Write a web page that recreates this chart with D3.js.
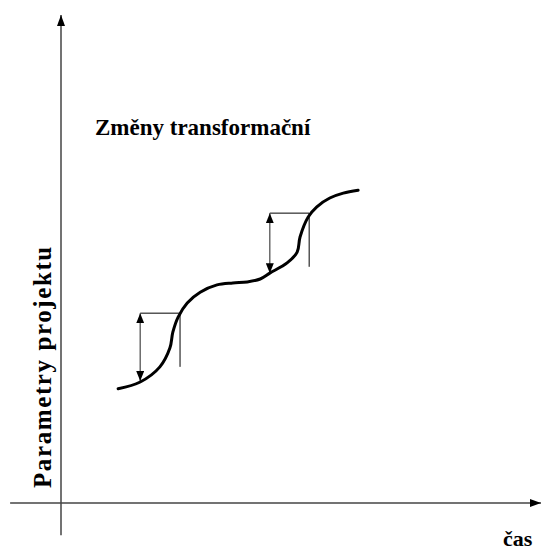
<!DOCTYPE html>
<html><head><meta charset="utf-8"><script src="https://cdn.jsdelivr.net/npm/d3@7"></script></head>
<body style="margin:0">
<svg id="chart" width="545" height="551"></svg>
<script>
// curve of project parameters over time (abstract units)
var curveT = [1.19, 1.65, 2.06, 2.27, 2.33, 2.44, 2.63, 2.90, 3.25, 3.58, 3.88, 4.15, 4.35, 4.71, 4.92, 4.98, 5.15, 5.33, 5.60, 5.88, 6.19];
var curveP = [2.34, 2.48, 2.79, 3.18, 3.50, 3.81, 4.10, 4.32, 4.47, 4.51, 4.53, 4.59, 4.71, 4.92, 5.14, 5.45, 5.86, 6.07, 6.25, 6.35, 6.41];

// the two transformation jumps: arrow x, step x, top level, arrow bottom, step line bottom
var jumpArrowT = [1.65, 4.35];
var jumpStepT  = [2.48, 5.17];
var jumpTop    = [3.89, 5.94];
var jumpLow    = [2.50, 4.71];
var jumpStepLow = [2.79, 4.84];

var axisRangeT = [-1.06, 10];
var axisRangeP = [-0.66, 10];

var labels = ["Změny transformační", "Parametry projektu", "čas"];

var svg = d3.select("#chart"),
    x = d3.scaleLinear().domain([0, 10]).range([61, 541]),
    y = d3.scaleLinear().domain([0, 10]).range([503, 15]);

// plain texts, no transform on the text itself
svg.append("text")
    .attr("x", 95).attr("y", 135)
    .attr("font-size", 23).attr("font-weight", "bold")
    .style("font-family", "'Liberation Serif'")
    .text(labels[0]);
svg.append("g").attr("transform", "translate(51,488) rotate(-90)")
    .append("text")
    .attr("x", 0).attr("y", 0)
    .attr("font-size", 25).attr("font-weight", "bold")
    .attr("letter-spacing", 1.6)
    .style("font-family", "'Liberation Serif'")
    .text(labels[1]);
svg.append("text")
    .attr("x", 503).attr("y", 546)
    .attr("font-size", 22).attr("font-weight", "bold")
    .style("font-family", "'Liberation Serif'")
    .text(labels[2]);

var defs = svg.append("defs");
function arrowMarker(id, w, l) {
    defs.append("marker")
        .attr("id", id)
        .attr("viewBox", "0 0 " + l + " " + w)
        .attr("refX", l).attr("refY", w / 2)
        .attr("markerWidth", l).attr("markerHeight", w)
        .attr("markerUnits", "userSpaceOnUse")
        .attr("orient", "auto-start-reverse")
        .append("path")
        .attr("d", "M0,0L" + l + "," + (w / 2) + "L0," + w + "Z")
        .attr("fill", "#000");
}
arrowMarker("axisHead", 8, 11);
arrowMarker("jumpHead", 8, 10);

// axes (no ticks)
svg.append("line")
    .attr("x1", x(0)).attr("y1", y(axisRangeP[0]))
    .attr("x2", x(0)).attr("y2", y(axisRangeP[1]))
    .attr("stroke", "#444").attr("stroke-width", 1.5)
    .attr("marker-end", "url(#axisHead)");
svg.append("line")
    .attr("x1", x(axisRangeT[0])).attr("y1", y(0))
    .attr("x2", x(axisRangeT[1])).attr("y2", y(0))
    .attr("stroke", "#444").attr("stroke-width", 1.5)
    .attr("marker-end", "url(#axisHead)");

// jumps
var jumps = jumpArrowT.map(function (t, i) {
    return { at: t, step: jumpStepT[i], top: jumpTop[i], low: jumpLow[i], stepLow: jumpStepLow[i] };
});
var g = svg.append("g");
g.selectAll(".top").data(jumps).enter().append("line")
    .attr("x1", function (d) { return x(d.at); }).attr("x2", function (d) { return x(d.step); })
    .attr("y1", function (d) { return y(d.top); }).attr("y2", function (d) { return y(d.top); })
    .attr("stroke", "#000").attr("stroke-width", 1);
g.selectAll(".step").data(jumps).enter().append("line")
    .attr("x1", function (d) { return x(d.step); }).attr("x2", function (d) { return x(d.step); })
    .attr("y1", function (d) { return y(d.top); }).attr("y2", function (d) { return y(d.stepLow); })
    .attr("stroke", "#000").attr("stroke-width", 1);
g.selectAll(".arrow").data(jumps).enter().append("line")
    .attr("x1", function (d) { return x(d.at); }).attr("x2", function (d) { return x(d.at); })
    .attr("y1", function (d) { return y(d.top); }).attr("y2", function (d) { return y(d.low); })
    .attr("stroke", "#555").attr("stroke-width", 1.3)
    .attr("marker-start", "url(#jumpHead)").attr("marker-end", "url(#jumpHead)");

// curve
var pts = curveT.map(function (t, i) { return [t, curveP[i]]; });
svg.append("path")
    .datum(pts)
    .attr("d", d3.line().x(function (d) { return x(d[0]); }).y(function (d) { return y(d[1]); }).curve(d3.curveCatmullRom))
    .attr("fill", "none").attr("stroke", "#000").attr("stroke-width", 3).attr("stroke-linecap", "round");
</script></body></html>
